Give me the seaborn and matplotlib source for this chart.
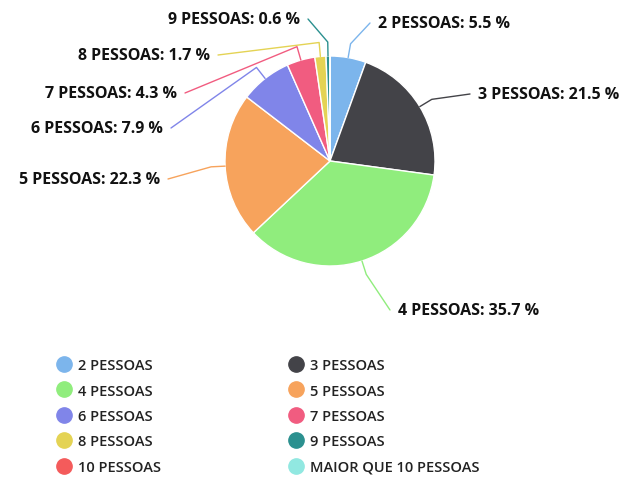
import numpy as np
import matplotlib.pyplot as plt
import seaborn as sns
from matplotlib.lines import Line2D

sns.set_theme(style="white")
plt.rcParams['font.family'] = ['Open Sans', 'DejaVu Sans']

categorias = ["2 PESSOAS", "3 PESSOAS", "4 PESSOAS", "5 PESSOAS", "6 PESSOAS",
              "7 PESSOAS", "8 PESSOAS", "9 PESSOAS", "10 PESSOAS", "MAIOR QUE 10 PESSOAS"]
percentuais = [5.5, 21.5, 35.7, 22.3, 7.9, 4.3, 1.7, 0.6, 0.0, 0.0]
cores = ["#7cb5ec", "#434348", "#90ed7d", "#f7a35c", "#8085e9",
         "#f15c80", "#e4d354", "#2b908f", "#f45b5b", "#91e8e1"]

W, H = 626, 481
fig = plt.figure(figsize=(W / 100, H / 100), dpi=100)
ax = fig.add_axes([0, 0, 1, 1])

cx, cy, r = 330, H - 162, 105
wedges, _ = ax.pie(percentuais, colors=cores, startangle=90, counterclock=False,
                   center=(cx, cy), radius=r,
                   wedgeprops=dict(edgecolor="white", linewidth=1))

# label anchor (text x, y in image coords, ha)
rotulos = {
    "2 PESSOAS": (378, 24, "left"),
    "3 PESSOAS": (478, 95, "left"),
    "4 PESSOAS": (398, 311, "left"),
    "5 PESSOAS": (160, 180, "right"),
    "6 PESSOAS": (163, 129, "right"),
    "7 PESSOAS": (177, 94, "right"),
    "8 PESSOAS": (210, 56, "right"),
    "9 PESSOAS": (300, 20, "right"),
}

for w, nome, pct, cor in zip(wedges, categorias, percentuais, cores):
    if nome not in rotulos:
        continue
    tx, ty, ha = rotulos[nome]
    ty = H - ty
    ang = np.deg2rad((w.theta1 + w.theta2) / 2)
    px, py = cx + r * np.cos(ang), cy + r * np.sin(ang)
    ox, oy = cx + (r + 14) * np.cos(ang), cy + (r + 14) * np.sin(ang)
    gap = 8 if ha == "left" else -8
    ax.plot([tx - gap, ox, px], [ty, oy, py], color=cor, lw=1, solid_capstyle="round")
    ax.text(tx, ty, f"{nome}: {pct} %", ha=ha, va="center",
            fontsize=11.5, fontweight="bold", color="#111111")

# legend: row-wise order like the original
ordem = [0, 2, 4, 6, 8, 1, 3, 5, 7, 9]
handles = [Line2D([], [], marker="o", linestyle="", markersize=11,
                  markerfacecolor=cores[i], markeredgecolor=cores[i]) for i in ordem]
labels = [categorias[i] for i in ordem]
leg = ax.legend(handles, labels, ncol=2, loc="upper left",
                bbox_to_anchor=(42 / W, 1 - 346 / H), frameon=False,
                fontsize=10.5, columnspacing=8.6, handletextpad=0.4,
                labelspacing=0.78, handlelength=1.2)
for t in leg.get_texts():
    t.set_color("#222222")
    t.set_fontweight("semibold")

ax.set_xlim(0, W)
ax.set_ylim(0, H)
ax.set_aspect("equal")
ax.axis("off")

plt.savefig("out.png", dpi=100)
plt.close()
